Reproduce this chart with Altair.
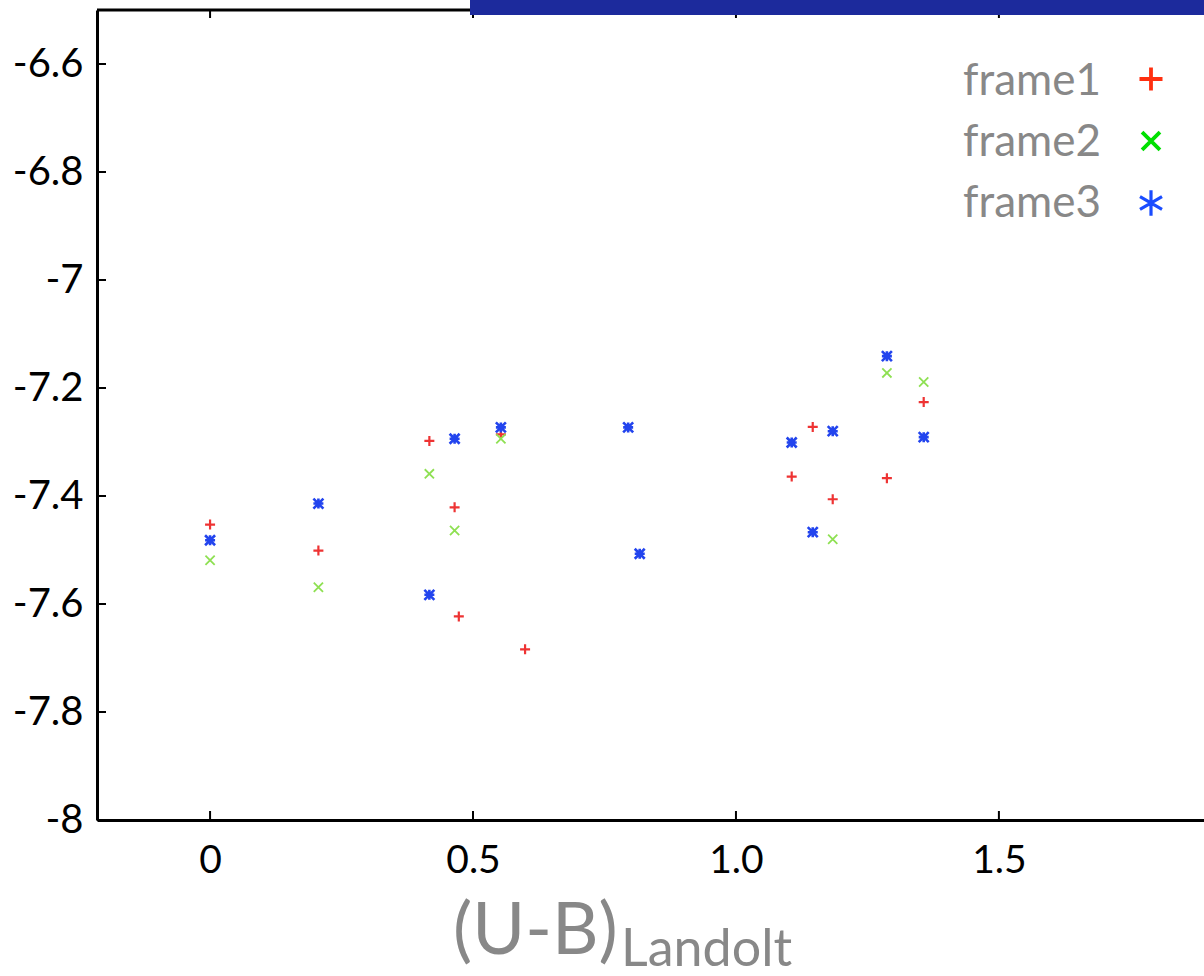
import altair as alt
import pandas as pd

# (U-B) colour index from Landolt vs. instrumental magnitude for three frames
frame1_x = [0.0, 0.206, 0.417, 0.465, 0.473, 0.553, 0.599, 1.106, 1.146, 1.184, 1.287, 1.357]
frame1_y = [-7.453, -7.501, -7.298, -7.421, -7.623, -7.286, -7.684, -7.364, -7.272, -7.406, -7.367, -7.226]

frame2_x = [0.0, 0.206, 0.417, 0.465, 0.553, 1.106, 1.184, 1.287, 1.357]
frame2_y = [-7.519, -7.569, -7.359, -7.464, -7.294, -7.301, -7.480, -7.172, -7.189]

frame3_x = [0.0, 0.206, 0.417, 0.465, 0.553, 0.795, 0.817, 1.106, 1.146, 1.184, 1.287, 1.357]
frame3_y = [-7.482, -7.414, -7.583, -7.294, -7.273, -7.273, -7.507, -7.301, -7.467, -7.280, -7.141, -7.291]

series_names = ["frame1", "frame2", "frame3"]
y_tick_values = [-8.0, -7.8, -7.6, -7.4, -7.2, -7.0, -6.8, -6.6]
x_tick_values = [0.0, 0.5, 1.0, 1.5]

X_DOMAIN = [-0.215, 1.89]
Y_DOMAIN = [-8.0, -6.5]
W, H = 1107, 810
FONT = "Lato"
GREY = "#888888"

PLUS = "M-1,0L1,0M0,-1L0,1"
CROSS = "M-1,-1L1,1M-1,1L1,-1"
STAR8 = "M-1,0L1,0M0,-1L0,1M-1,-1L1,1M-1,1L1,-1"
STAR6 = "M0,-1L0,1M-0.87,-0.5L0.87,0.5M-0.87,0.5L0.87,-0.5"

xscale = alt.Scale(domain=X_DOMAIN, nice=False, zero=False)
yscale = alt.Scale(domain=Y_DOMAIN, nice=False, zero=False)

x_axis = alt.Axis(
    values=x_tick_values, title=None, ticks=False, grid=False,
    domainColor="black", domainWidth=3,
    labelFont=FONT, labelFontSize=39, labelColor="black",
    labelBaseline="middle", labelPadding=40,
    labelExpr="datum.value == 0 ? '0' : format(datum.value, '.1f')",
)
y_axis = alt.Axis(
    values=y_tick_values, title=None, ticks=False, grid=False,
    domainColor="black", domainWidth=3,
    labelFont=FONT, labelFontSize=40, labelColor="black",
    labelPadding=14,
    labelExpr="(datum.value < 0 ? '-' : '') + format(abs(datum.value), '.1~f')",
)


def X(field):
    return alt.X(field, scale=xscale, axis=x_axis)


def Y(field):
    return alt.Y(field, scale=yscale, axis=y_axis)


def scatter(xs, ys, shape, color, size, sw):
    df = pd.DataFrame({"x": xs, "y": ys})
    return alt.Chart(df).mark_point(
        shape=shape, filled=False, stroke=color, size=size, strokeWidth=sw, opacity=1
    ).encode(x=X("x:Q"), y=Y("y:Q"))


pts1 = scatter(frame1_x, frame1_y, PLUS, "#ee3333", 100, 2.2)
pts2 = scatter(frame2_x, frame2_y, CROSS, "#8ee052", 85, 1.8)
pts3 = scatter(frame3_x, frame3_y, STAR8, "#2244ee", 100, 2.6)

# inward tick marks on left, bottom and top edges
yt = pd.DataFrame({"v": y_tick_values})
xt = pd.DataFrame({"v": x_tick_values})
left_ticks = alt.Chart(yt).mark_rule(color="black", strokeWidth=2).encode(
    y=Y("v:Q"), x=alt.value(0), x2=alt.value(9)
)
bottom_ticks = alt.Chart(xt).mark_rule(color="black", strokeWidth=2).encode(
    x=X("v:Q"), y=alt.value(H), y2=alt.value(H - 9)
)
top_ticks = alt.Chart(xt).mark_rule(color="black", strokeWidth=2).encode(
    x=X("v:Q"), y=alt.value(0), y2=alt.value(8)
)
top_line = alt.Chart(pd.DataFrame({"a": [0]})).mark_rule(color="black", strokeWidth=3).encode(
    x=alt.value(0), x2=alt.value(W), y=alt.value(0)
)

# header banner
banner = alt.Chart(pd.DataFrame({"a": [0]})).mark_rect(color="#1c2a9c").encode(
    x=alt.value(373), x2=alt.value(W + 10), y=alt.value(-12), y2=alt.value(5)
)

# legend: label on the left, symbol on the right
legend_layers = []
legend_symbols = [
    (PLUS, "#ff3010", 530, 3.8),
    (CROSS, "#00e000", 320, 3.8),
    (STAR6, "#1a4cff", 640, 3.2),
]
for i, (name, (shp, col, sz, sw)) in enumerate(zip(series_names, legend_symbols)):
    d = pd.DataFrame({"t": [name]})
    legend_layers.append(
        alt.Chart(d).mark_text(
            font=FONT, fontSize=44, color=GREY, align="right", baseline="alphabetic"
        ).encode(text="t:N", x=alt.value(1004), y=alt.value(85 + 61 * i))
    )
    legend_layers.append(
        alt.Chart(d).mark_point(
            shape=shp, filled=False, stroke=col, size=sz, strokeWidth=sw, opacity=1
        ).encode(x=alt.value(1054), y=alt.value(69 + 62 * i))
    )

# x-axis title with subscript
title_main = alt.Chart(pd.DataFrame({"t": ["(U-B)"]})).mark_text(
    font=FONT, fontSize=72, color=GREY, align="left", baseline="alphabetic"
).encode(text="t:N", x=alt.value(356), y=alt.value(944))
title_sub = alt.Chart(pd.DataFrame({"t": ["Landolt"]})).mark_text(
    font=FONT, fontSize=52, color=GREY, align="left", baseline="alphabetic"
).encode(text="t:N", x=alt.value(524), y=alt.value(956))

chart = alt.layer(
    pts1, left_ticks, bottom_ticks, top_ticks, top_line,
    pts2, pts3, banner, *legend_layers, title_main, title_sub,
).properties(
    width=W, height=H,
    padding={"left": 97, "top": 10, "right": 0, "bottom": 156},
    autosize="none",
    background="white",
).configure_view(stroke=None)

chart.save("out.html", embed_options={"renderer": "svg", "actions": False})
